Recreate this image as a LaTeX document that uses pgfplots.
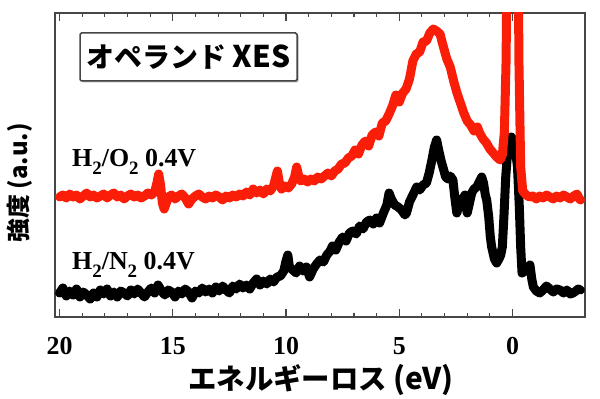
\documentclass[border=0pt]{standalone}
\usepackage{fontspec}
\setmainfont{Liberation Serif}
\newfontfamily\cjk{Noto Sans CJK JP}
\usepackage{pgfplots}
\pgfplotsset{compat=1.18}
\usetikzlibrary{shadows}
\definecolor{specred}{RGB}{250,30,8}
\definecolor{framegray}{RGB}{70,70,70}
\newcommand{\sub}[1]{\raisebox{-0.28em}{\fontsize{19}{19}\selectfont #1}}
\begin{document}
\begin{tikzpicture}
\useasboundingbox (-55bp,-82bp) rectangle (545bp,317bp);
\begin{axis}[
  at={(0,0)}, anchor=south west,
  scale only axis, width=530bp, height=304bp,
  xmin=-3.2, xmax=20.2, ymin=0, ymax=304,
  x dir=reverse,
  axis line style={framegray, line width=1.2bp},
  xtick={20,15,10,5,0}, xticklabels={20,15,10,5,0},
  minor x tick num=4,
  ytick=\empty,
  tick align=inside, xtick pos=both,
  major tick length=8bp, minor tick length=4.5bp,
  every tick/.style={framegray, line width=1.1bp},
  xticklabel style={font=\fontsize{26}{26}\selectfont\bfseries, anchor=base, yshift=-37bp},
  clip=true,
]
\addplot[black, line width=9bp, line join=round, line cap=round] coordinates {
(20.0,24)(19.85,29)(19.7,21)(19.55,26)(19.4,22)(19.25,28)(19.1,20)(18.95,25)(18.8,22)(18.65,18)
(18.5,24)(18.35,20)(18.2,27)(18.05,23)(17.9,28)(17.75,21)(17.6,25)(17.45,20)(17.3,26)(17.15,24)
(17.0,21)(16.85,27)(16.7,23)(16.55,28)(16.4,24)(16.25,20)(16.1,25)(15.95,29)(15.8,24)(15.65,32)
(15.5,26)(15.35,22)(15.2,27)(15.05,25)(14.9,20)(14.75,26)(14.6,23)(14.45,28)(14.3,25)(14.15,19)
(14.0,26)(13.85,24)(13.7,29)(13.55,25)(13.4,28)(13.25,24)(13.1,30)(12.95,26)(12.8,31)(12.65,27)
(12.5,24)(12.35,31)(12.2,28)(12.05,33)(11.9,29)(11.75,32)(11.6,28)(11.45,34)(11.3,38)(11.15,32)
(11.0,36)(10.85,33)(10.7,38)(10.55,35)(10.4,40)(10.25,41)(10.1,46)(10.0,56)(9.92,62)(9.85,50)
(9.7,47)(9.55,44)(9.4,51)(9.25,46)(9.1,50)(8.96,40)(8.8,48)(8.65,53)(8.5,57)(8.35,55)
(8.2,62)(8.05,66)(7.95,71)(7.8,67)(7.65,75)(7.5,80)(7.35,76)(7.2,84)(7.05,86)(6.9,83)
(6.75,91)(6.6,88)(6.45,95)(6.3,97)(6.15,93)(6.0,99)(5.87,94)(5.7,104)(5.55,112)(5.45,124)
(5.35,118)(5.2,112)(5.05,110)(4.9,107)(4.75,102)(4.68,104)(4.55,115)(4.4,122)(4.23,130)(4.1,127)
(3.95,132)(3.8,134)(3.68,144)(3.55,158)(3.45,170)(3.35,177)(3.25,166)(3.15,156)(3.05,148)(2.95,140)
(2.85,138)(2.75,141)(2.63,137)(2.55,120)(2.46,104)(2.38,110)(2.3,118)(2.2,117)(2.1,122)(2.0,104)
(1.92,112)(1.8,124)(1.7,128)(1.58,130)(1.45,136)(1.36,140)(1.28,134)(1.2,122)(1.14,117)(1.05,100)
(0.98,80)(0.92,70)(0.8,58)(0.7,54)(0.6,58)(0.52,62)(0.45,70)(0.38,100)(0.3,140)(0.2,170)
(0.05,180)(-0.1,172)(-0.22,150)(-0.3,110)(-0.36,70)(-0.42,44)(-0.55,46)(-0.7,50)(-0.77,52)
(-0.85,38)(-0.92,30)(-1.05,26)(-1.2,24)(-1.35,27)(-1.5,31)(-1.65,28)(-1.8,25)(-1.95,28)(-2.1,27)
(-2.25,24)(-2.4,27)(-2.55,23)(-2.67,24)(-2.8,26)(-2.9,28)(-3.0,27)
};
\addplot[specred, line width=9bp, line join=round, line cap=round] coordinates {
(20.0,120)(19.85,122)(19.7,119)(19.55,123)(19.4,120)(19.25,122)(19.1,118)(18.95,121)(18.8,124)(18.65,120)
(18.5,122)(18.35,119)(18.2,121)(18.05,123)(17.9,119)(17.75,122)(17.6,124)(17.45,120)(17.3,122)(17.15,118)
(17.0,121)(16.85,123)(16.7,120)(16.55,122)(16.4,119)(16.25,121)(16.1,124)(15.95,122)(15.8,125)(15.7,134)
(15.62,143)(15.54,132)(15.46,114)(15.38,108)(15.3,113)(15.2,120)(15.05,122)(14.9,118)(14.75,121)(14.6,123)
(14.45,119)(14.3,113)(14.15,118)(14.0,121)(13.85,123)(13.7,120)(13.55,118)(13.4,121)(13.25,119)(13.1,122)
(12.95,120)(12.8,117)(12.65,121)(12.5,119)(12.35,122)(12.2,120)(12.05,123)(11.9,121)(11.75,125)(11.6,122)
(11.45,128)(11.3,124)(11.15,127)(11.0,123)(10.85,128)(10.7,126)(10.55,131)(10.45,140)(10.38,146)(10.3,135)
(10.2,128)(10.05,131)(9.9,129)(9.75,133)(9.62,140)(9.53,150)(9.45,142)(9.35,136)(9.2,138)(9.05,135)
(8.9,138)(8.75,136)(8.6,140)(8.45,138)(8.3,141)(8.15,144)(8.0,141)(7.85,146)(7.7,148)(7.55,153)
(7.4,154)(7.25,159)(7.1,161)(6.95,167)(6.8,163)(6.65,172)(6.5,176)(6.35,171)(6.2,182)(6.05,185)
(5.9,181)(5.75,194)(5.6,196)(5.45,203)(5.3,211)(5.15,222)(5.0,215)(4.85,224)(4.7,228)(4.55,238)
(4.4,256)(4.25,263)(4.1,265)(3.95,275)(3.8,276)(3.65,284)(3.5,288)(3.35,286)(3.2,283)(3.05,270)
(2.9,258)(2.75,250)(2.6,236)(2.45,224)(2.3,214)(2.15,204)(2.0,196)(1.85,192)(1.7,186)(1.55,190)
(1.45,184)(1.3,178)(1.15,174)(1.0,168)(0.85,164)(0.7,160)(0.55,157)(0.45,162)(0.36,185)(0.28,260)
(0.25,400)(0.0,700)(-0.25,400)(-0.28,260)(-0.36,150)(-0.45,126)(-0.6,122)(-0.75,120)(-0.9,121)(-1.05,118)
(-1.2,121)(-1.35,119)(-1.5,122)(-1.65,120)(-1.8,118)(-1.95,121)(-2.1,119)(-2.25,122)(-2.4,120)(-2.55,118)
(-2.7,121)(-2.85,123)(-2.95,118)(-3.0,117)
};
\end{axis}
% box label
\node[draw=framegray, line width=1.5bp, fill=white, rounded corners=1.5bp,
      drop shadow={shadow xshift=1.5bp, shadow yshift=-1.5bp, opacity=0.6, fill=gray},
      minimum width=217bp, minimum height=48bp, inner sep=0pt]
  at (133.5bp,260bp) {\cjk\bfseries\fontsize{28}{28}\selectfont オペランド {\fontsize{30}{30}\selectfont XES}};
% series labels
\node[anchor=base west, inner sep=0pt, font=\fontsize{26}{26}\selectfont\bfseries]
  at (17bp,150bp) {H\sub{2}/O\sub{2} 0.4V};
\node[anchor=base west, inner sep=0pt, font=\fontsize{26}{26}\selectfont\bfseries]
  at (17bp,47bp) {H\sub{2}/N\sub{2} 0.4V};
% axis labels
\node[anchor=base, inner sep=0pt] at (266bp,-72bp)
  {\cjk\bfseries\fontsize{28.5}{28.5}\selectfont エネルギーロス {\fontsize{30}{30}\selectfont (eV)}};
\node[rotate=90, inner sep=0pt] at (-35bp,134bp)
  {\cjk\bfseries\fontsize{24}{24}\selectfont 強度 (a.u.)};
\end{tikzpicture}
\end{document}
